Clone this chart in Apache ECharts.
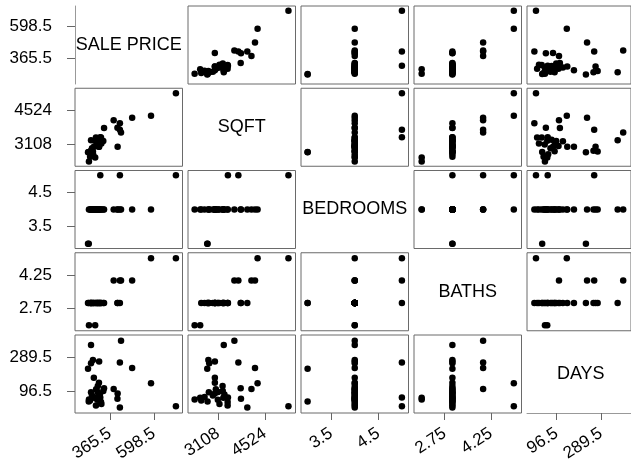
<!DOCTYPE html>
<html><head><meta charset="utf-8">
<script src="https://cdn.jsdelivr.net/npm/echarts@6/dist/echarts.min.js"></script>
<style>html,body{margin:0;padding:0;background:#fff}#c{width:631px;height:470px}</style>
</head><body><div id="c"></div>
<script>
// Variable names (diagonal labels)
const varNames = ['SALE PRICE', 'SQFT', 'BEDROOMS', 'BATHS', 'DAYS'];

// One entry per house
const salePrice = [715, 583, 483, 424, 418, 385, 418, 405, 406, 265, 275, 265, 308, 249, 280, 307, 334, 253, 254, 287, 314,
                   291, 301, 292, 265, 300, 270, 285, 318, 260, 298, 330, 276, 312, 320];
const sqft      = [5232, 4300, 4222, 3600, 3720, 4115, 3990, 3799, 3010, 3280, 2815, 2841, 3011, 2781, 3011, 3011, 3790, 2790, 2400, 2568, 3405,
                   3396, 3244, 3041, 2829, 3108, 2950, 3266, 3396, 2600, 3100, 3250, 2700, 3300, 3150];
const bedrooms  = [5, 4, 4, 4, 5, 4, 4, 4, 4, 4, 4, 4, 4, 3, 4, 4, 4, 3, 4, 4, 5,
                   4, 4, 4, 4, 4, 4, 4, 4, 4, 4, 4, 4, 4, 4];
const baths     = [5, 5, 4, 4, 4, 4, 3, 3, 3, 3, 3, 3, 3, 3, 3, 3, 3, 3, 2, 2, 3,
                   3, 3, 3, 3, 3, 3, 3, 3, 3, 3, 3, 3, 3, 3];
const days      = [7, 141, 229, 386, 260, 107, 0, 50, 81, 362, 275, 257, 266, 224, 172, 143, 111, 34, 46, 56, 58,
                   12, 124, 105, 88, 89, 70, 56, 32, 40, 45, 95, 60, 75, 20];

// Tick labels per variable
const tickPrice = [365.5, 598.5];
const tickSqft = [3108, 4524];
const tickBed = [3.5, 4.5];
const tickBath = [2.75, 4.25];
const tickDays = [96.5, 289.5];

const vars = [salePrice, sqft, bedrooms, baths, days];
const ticks = [tickPrice, tickSqft, tickBed, tickBath, tickDays];
// axis extents (scale config)
const ranges = [[180, 750], [2200, 5445], [2.86, 5.14], [1.75, 5.25], [-32, 420]];

const N = 5;
const cellW = 107.5, cellH = 78, x0 = 75, y0 = 6, pitchX = 113, pitchY = 82.25;
const FONT = 'Liberation Sans, Arial, Helvetica, sans-serif';

const grids = [], xAxes = [], yAxes = [], series = [], graphics = [];
let gi = 0;
for (let r = 0; r < N; r++) {
  for (let c = 0; c < N; c++) {
    const diag = r === c;
    grids.push({
      left: x0 + c * pitchX, top: y0 + r * pitchY, width: cellW, height: cellH,
      show: !diag, borderColor: '#6a6a6a', borderWidth: 1, backgroundColor: 'transparent'
    });
    const showX = r === N - 1;
    const showY = c === 0;
    xAxes.push({
      type: 'value', gridIndex: gi, min: ranges[c][0], max: ranges[c][1],
      splitLine: { show: false },
      axisLine: { show: showX && diag, onZero: false, lineStyle: { color: '#999' } },
      axisTick: { show: showX, customValues: ticks[c], length: 7, lineStyle: { color: '#666' } },
      axisLabel: { show: showX, customValues: ticks[c], rotate: 33, margin: 19, color: '#000',
                   fontSize: 17, fontFamily: FONT, formatter: v => String(v) }
    });
    yAxes.push({
      type: 'value', gridIndex: gi, min: ranges[r][0], max: ranges[r][1],
      splitLine: { show: false },
      axisLine: { show: showY && diag, onZero: false, lineStyle: { color: '#999' } },
      axisTick: { show: showY, customValues: ticks[r], length: 8, lineStyle: { color: '#666' } },
      axisLabel: { show: showY, customValues: ticks[r], margin: 23, color: '#000',
                   fontSize: 17, fontFamily: FONT, formatter: v => String(v) }
    });
    if (!diag) {
      const xs = vars[c], ys = vars[r];
      series.push({
        type: 'scatter', xAxisIndex: gi, yAxisIndex: gi, symbol: 'circle', symbolSize: 6.5,
        itemStyle: { color: '#000', opacity: 1 }, silent: true,
        data: xs.map((v, k) => [v, ys[k]])
      });
    } else {
      graphics.push({
        type: 'text',
        x: x0 + c * pitchX + cellW / 2, y: y0 + r * pitchY + cellH / 2,
        style: { text: varNames[r], font: '18px ' + FONT, fill: '#000',
                 textAlign: 'center', textVerticalAlign: 'middle', align: 'center', verticalAlign: 'middle' }
      });
    }
    gi++;
  }
}

const chart = echarts.init(document.getElementById('c'), null, { renderer: 'canvas' });
chart.setOption({
  animation: false,
  backgroundColor: '#fff',
  grid: grids, xAxis: xAxes, yAxis: yAxes, series: series, graphic: graphics
});
</script></body></html>
